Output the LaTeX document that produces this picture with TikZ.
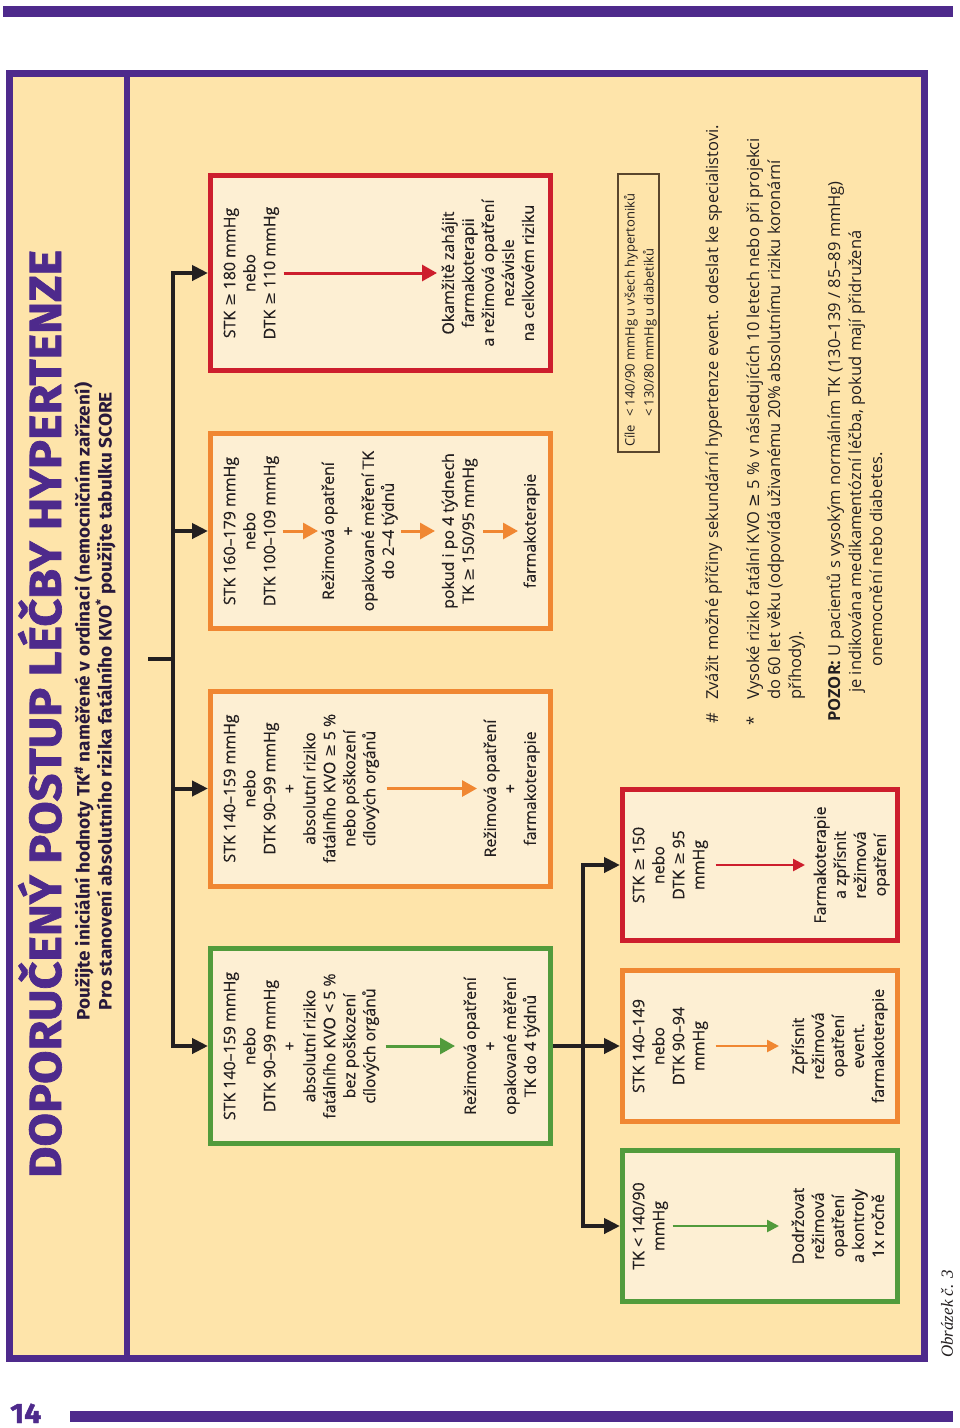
\documentclass[tikz,border=0pt]{standalone}
\usepackage{fontspec}
\usepackage{graphicx}
\setmainfont{Open Sans}
\newfontfamily\boxfam{Open Sans}[FakeBold=0.4]
\newfontfamily\titlef{Fira Sans}[BoldFeatures={FakeBold=1.5}]
\newfontfamily\subf{Fira Sans}
\newfontfamily\symf{DejaVu Sans}
\newfontfamily\seriff{Liberation Serif}
\usetikzlibrary{arrows.meta}
\definecolor{purp}{RGB}{78,42,140}
\definecolor{bgc}{RGB}{254,228,170}
\definecolor{boxfill}{RGB}{253,239,211}
\definecolor{grn}{RGB}{82,155,60}
\definecolor{org}{RGB}{240,135,50}
\definecolor{redc}{RGB}{205,30,45}
\definecolor{txt}{RGB}{35,31,32}
\definecolor{subc}{RGB}{40,25,60}
\definecolor{cilec}{RGB}{90,70,45}
\newcommand\gq{{\symf ≥}}
\newcommand\bxf{\boxfam\fontsize{15.9}{20}\selectfont}
\newcommand\fnf{\fontsize{16.5}{20}\selectfont}
\tikzset{
  box/.style={draw, line width=5pt, fill=boxfill, inner sep=0pt},
  topbox/.style={box, minimum width=340pt, minimum height=195pt},
  lowbox/.style={box, minimum width=275pt, minimum height=151pt},
  bt/.style={rotate=90, font=\bxf, text=txt, align=center, inner sep=0pt,
    anchor=north, execute at begin node=\strut, execute at end node=\strut},
  blk/.style={draw=txt, line width=4pt},
  blkarrow/.style={blk, -{Triangle[length=16pt,width=15pt]}},
  iarrow/.style={line width=3pt, -{Triangle[length=15pt,width=16pt]}},
  larrow/.style={line width=2.5pt, -{Triangle[length=12pt,width=12pt]}},
  fn/.style={rotate=90, anchor=base west, font=\fnf, text=txt, inner sep=0pt},
  ct/.style={rotate=90, anchor=base west, font=\fontsize{13}{15}\selectfont, text=txt, inner sep=0pt},
}
\begin{document}
\begin{tikzpicture}[x=1pt,y=-1pt]
\useasboundingbox (0,0) rectangle (960,1428);
\fill[white] (0,0) rectangle (960,1428);
% page bars
\fill[purp] (3,6) rectangle (953,17);
\fill[purp] (70,1411) rectangle (953,1422);
\node[anchor=base west, inner sep=0pt, text=purp] (pg) at (10,1423)
  {\resizebox{31pt}{\height}{\titlef\bfseries\fontsize{28}{30}\selectfont 14}};
\node[rotate=90, inner sep=0pt, text=txt] (obr) at (947,1314)
  {\seriff\itshape\fontsize{17}{20}\selectfont Obrázek č. 3};
% frame
\node[draw=purp, line width=7pt, fill=bgc, minimum width=915pt, minimum height=1285pt, inner sep=0pt] (frame) at (467,716) {};
\draw[purp, line width=6pt] (127,73.5) -- (127,1358.5);
% title column
\node[rotate=90, anchor=base, inner sep=0pt, text=purp] (title) at (61,714)
  {\resizebox{928pt}{\height}{\titlef\bfseries\fontsize{45}{50}\selectfont DOPORUČENÝ POSTUP LÉČBY HYPERTENZE}};
\node[rotate=90, anchor=base, inner sep=0pt, text=subc] (st1) at (89.5,701)
  {\resizebox{638pt}{\height}{\subf\bfseries\fontsize{18}{20}\selectfont Použijte iniciální hodnoty TK\textsuperscript{\#} naměřené v ordinaci (nemocničním zařízení)}};
\node[rotate=90, anchor=base, inner sep=0pt, text=subc] (st2) at (111.5,701)
  {\resizebox{618pt}{\height}{\subf\bfseries\fontsize{18}{20}\selectfont Pro stanovení absolutního rizika fatálního KVO\textsuperscript{*} použijte tabulku SCORE}};
% boxes
\node[topbox, draw=redc] (b1) at (380.5,273) {};
\node[topbox, draw=org] (b2) at (380.5,531) {};
\node[topbox, draw=org] (b3) at (380.5,788.5) {};
\node[topbox, draw=grn] (b4) at (380.5,1046) {};
\node[lowbox, draw=redc] (b5) at (760,865) {};
\node[lowbox, draw=org] (b6) at (760,1046) {};
\node[lowbox, draw=grn] (b7) at (760,1226) {};
% tree connectors
\coordinate (root) at (148,659);
\coordinate (tj) at (173,659);
\coordinate (t1) at (173,273);
\coordinate (t2) at (173,531);
\coordinate (t3) at (173,788.5);
\coordinate (t4) at (173,1046);
\draw[blk, line cap=rect] (t1) -- (t4);
\draw[blk] (root) -- (tj);
\draw[blkarrow] (t1) -- (b1.west);
\draw[blkarrow] (t2) -- (b2.west);
\draw[blkarrow] (t3) -- (b3.west);
\draw[blkarrow] (t4) -- (b4.west);
\coordinate (l5) at (583,865);
\coordinate (l7) at (583,1226);
\draw[blk, line cap=rect] (l5) -- (l7);
\draw[blkarrow] (b4.east) -- (b6.west);
\draw[blkarrow] (l5) -- (b5.west);
\draw[blkarrow] (l7) -- (b7.west);
% box texts - top row
\node[bt] (c1) at (223.5,273) {STK \gq{} 180 mmHg\\nebo\\DTK \gq{} 110 mmHg};
\node[bt] (a1) at (441.5,273) {Okamžitě zahájit\\farmakoterapii\\a režimová opatření\\nezávisle\\na celkovém riziku};
\node[bt] (c2) at (223.5,531) {STK 160–179 mmHg\\nebo\\DTK 100–109 mmHg};
\node[bt] (a2a) at (321.5,531) {Režimová opatření\\+\\opakované měření TK\\do 2–4 týdnů};
\node[bt] (a2b) at (441.5,531) {pokud i po 4 týdnech\\TK \gq{} 150/95 mmHg};
\node[bt] (a2c) at (521.5,531) {farmakoterapie};
\node[bt] (c3) at (223.5,788.5) {STK 140–159 mmHg\\nebo\\DTK 90–99 mmHg\\+\\absolutní riziko\\fatálního KVO \gq{} 5 \%\\nebo poškození\\cílových orgánů};
\node[bt] (a3) at (483.5,788.5) {Režimová opatření\\+\\farmakoterapie};
\node[bt] (c4) at (223.5,1046) {STK 140–159 mmHg\\nebo\\DTK 90–99 mmHg\\+\\absolutní riziko\\fatálního KVO < 5 \%\\bez poškození\\cílových orgánů};
\node[bt] (a4) at (463.5,1046) {Režimová opatření\\+\\opakované měření\\TK do 4 týdnů};
% box texts - lower row
\node[bt] (c5) at (632.5,865) {STK \gq{} 150\\nebo\\DTK \gq{} 95\\mmHg};
\node[bt] (a5) at (813.5,865) {Farmakoterapie\\a zpřísnit\\režimová\\opatření};
\node[bt] (c6) at (632.5,1046) {STK 140–149\\nebo\\DTK 90–94\\mmHg};
\node[bt] (a6) at (791.5,1046) {Zpřísnit\\režimová\\opatření\\event.\\farmakoterapie};
\node[bt] (c7) at (632.5,1226) {TK < 140/90\\mmHg};
\node[bt] (a7) at (791.5,1226) {Dodržovat\\režimová\\opatření\\a kontroly\\1x ročně};
% inner arrows
\draw[iarrow, redc, shorten <=2.3pt, shorten >=4.5pt] (c1.south) -- (a1.north);
\draw[iarrow, org, shorten <=1.3pt, shorten >=3.5pt] (c2.south) -- (a2a.north);
\draw[iarrow, org, shorten <=1.3pt, shorten >=6.5pt] (a2a.south) -- (a2b.north);
\draw[iarrow, org, shorten <=3.3pt, shorten >=3.5pt] (a2b.south) -- (a2c.north);
\draw[iarrow, org, shorten <=5.3pt, shorten >=6.5pt] (c3.south) -- (a3.north);
\draw[iarrow, grn, shorten <=4.3pt, shorten >=8.5pt] (c4.south) -- (a4.north);
\draw[larrow, redc, shorten <=5.3pt, shorten >=8.5pt] (c5.south) -- (a5.north);
\draw[larrow, org, shorten <=5.3pt, shorten >=12.5pt] (c6.south) -- (a6.north);
\draw[larrow, grn, shorten <=2.3pt, shorten >=12.5pt] (c7.south) -- (a7.north);
% goals box
\node[draw=cilec, line width=1.2pt, minimum width=41pt, minimum height=278pt, inner sep=0pt] (cb) at (638.5,313) {};
\node[ct] (cl) at (634.5,447) {Cíle};
\node[ct] (cl1) at (634.5,417) {< 140/90 mmHg u všech hypertoniků};
\node[ct] (cl2) at (653.5,417) {< 130/80 mmHg u diabetiků};
% footnotes
\node[fn] (f1h) at (718,724) {\#};
\node[fn] (f1) at (718,700) {Zvážit možné příčiny sekundární hypertenze event. odeslat ke specialistovi.};
\node[fn] (f2h) at (759,726) {*};
\node[fn] (f2) at (759,700) {Vysoké riziko fatální KVO \gq{} 5 \% v následujících 10 letech nebo při projekci};
\node[fn] (f3) at (780,700) {do 60 let věku (odpovídá uživanému 20\% absolutnímu riziku koronární};
\node[fn] (f4) at (801,700) {příhody).};
\node[fn] (f5) at (840,722) {\textbf{POZOR:} U pacientů s vysokým normálním TK (130–139 / 85–89 mmHg)};
\node[fn] (f6) at (861,693) {je indikována medikamentózní léčba, pokud mají přidružená};
\node[fn] (f7) at (882,667) {onemocnění nebo diabetes.};
\end{tikzpicture}
\end{document}
